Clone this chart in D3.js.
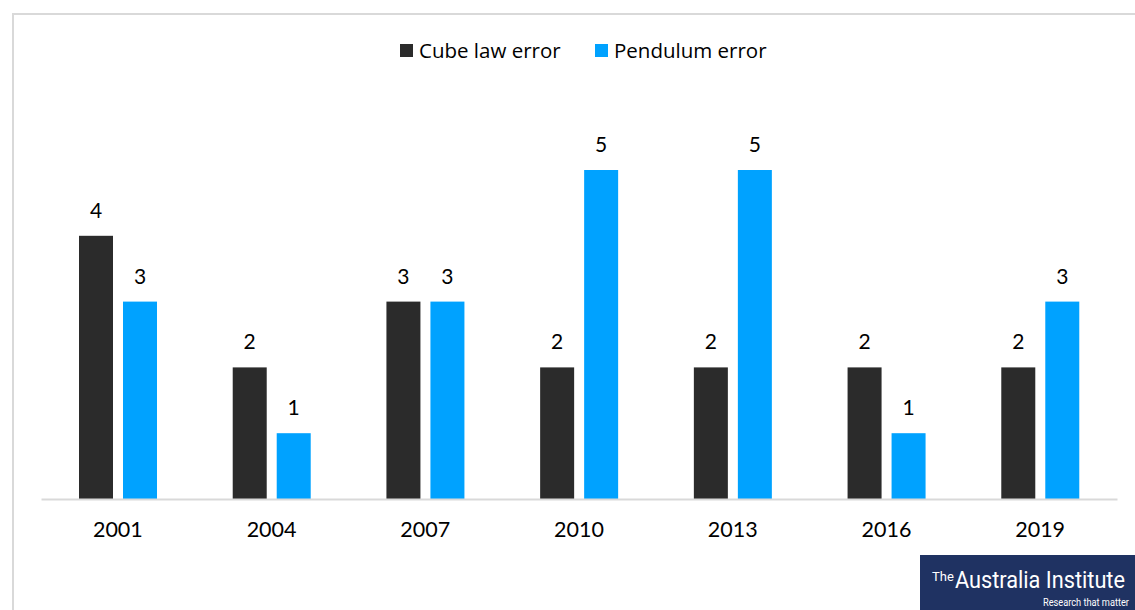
<!DOCTYPE html>
<html>
<head>
<meta charset="utf-8">
<script src="https://cdn.jsdelivr.net/npm/d3@7"></script>
<style>
  body { margin: 0; background: #fff; }
  svg { display: block; }
</style>
</head>
<body>
<div id="chart"></div>
<script>

var years = ['2001', '2004', '2007', '2010', '2013', '2016', '2019'];
var seriesNames = ['Cube law error', 'Pendulum error'];
var cubeLaw = [4, 2, 3, 2, 2, 2, 2];
var pendulum = [3, 1, 3, 5, 5, 1, 3];
var colors = ['#2b2b2b', '#00a2ff'];

var width = 1135;
var height = 610;

var svg = d3.select('#chart')
    .append('svg')
    .attr('width', width)
    .attr('height', height);

// chart frame
svg.append('path')
    .attr('d', 'M13,610 V14 H1135')
    .attr('fill', 'none')
    .attr('stroke', '#d9d9d9')
    .attr('stroke-width', 2);

var x0 = d3.scaleBand()
    .domain(years)
    .range([41, 1117]);

var x1 = d3.scaleBand()
    .domain(seriesNames)
    .range([38, 116])
    .paddingInner(10 / 44);

var y = d3.scaleLinear()
    .domain([0, 5])
    .range([499, 170]);

var data = years.map(function(yr, i) {
    return {year: yr, values: [cubeLaw[i], pendulum[i]]};
});

var groups = svg.selectAll('g.year')
    .data(data)
    .enter()
    .append('g')
    .attr('class', 'year')
    .attr('transform', function(d) { return 'translate(' + x0(d.year) + ',0)'; });

groups.selectAll('rect')
    .data(function(d) { return d.values.map(function(v, j) { return {name: seriesNames[j], value: v, idx: j}; }); })
    .enter()
    .append('rect')
    .attr('x', function(d) { return x1(d.name); })
    .attr('y', function(d) { return y(d.value); })
    .attr('width', x1.bandwidth())
    .attr('height', function(d) { return y(0) - y(d.value); })
    .attr('fill', function(d) { return colors[d.idx]; });

groups.selectAll('text.val')
    .data(function(d) { return d.values.map(function(v, j) { return {name: seriesNames[j], value: v}; }); })
    .enter()
    .append('text')
    .attr('class', 'val')
    .attr('x', function(d) { return x1(d.name) + x1.bandwidth() / 2; })
    .attr('y', function(d) { return y(d.value) - 18; })
    .attr('text-anchor', 'middle')
    .style('font-family', 'Lato, "Open Sans", sans-serif')
    .style('font-size', '21px')
    .style('fill', '#000')
    .text(function(d) { return d.value; });

// x axis
var xAxis = svg.append('g')
    .attr('transform', 'translate(0,' + y(0) + ')')
    .call(d3.axisBottom(x0).tickSize(0).tickPadding(23));

xAxis.select('.domain')
    .attr('stroke', '#d9d9d9')
    .attr('stroke-width', 2);

xAxis.selectAll('text')
    .style('font-family', 'Lato, "Open Sans", sans-serif')
    .style('font-size', '21.5px')
    .style('fill', '#000');

// legend
var legendX = [400, 595];
var legend = svg.selectAll('g.legend')
    .data(seriesNames)
    .enter()
    .append('g')
    .attr('class', 'legend')
    .attr('transform', function(d, i) { return 'translate(' + legendX[i] + ',44)'; });

legend.append('rect')
    .attr('width', 13)
    .attr('height', 13)
    .attr('fill', function(d, i) { return colors[i]; });

legend.append('text')
    .attr('x', 19)
    .attr('y', 14)
    .style('font-family', '"Open Sans", sans-serif')
    .style('font-size', '20.5px')
    .style('fill', '#000')
    .text(function(d) { return d; });

// logo
var logo = svg.append('g').attr('transform', 'translate(920,555)');
logo.append('rect')
    .attr('width', 215)
    .attr('height', 55)
    .attr('fill', '#1f3262');
logo.append('text')
    .attr('x', 12)
    .attr('y', 26)
    .style('font-family', '"Liberation Sans Narrow", "Roboto", sans-serif')
    .style('font-size', '13px')
    .style('fill', '#fff')
    .text('The');
logo.append('text')
    .attr('x', 35)
    .attr('y', 33)
    .attr('textLength', 170)
    .attr('lengthAdjust', 'spacingAndGlyphs')
    .style('font-family', '"Liberation Sans Narrow", "Roboto", sans-serif')
    .style('font-size', '23px')
    .style('fill', '#fff')
    .text('Australia Institute');
logo.append('text')
    .attr('x', 123)
    .attr('y', 51)
    .attr('textLength', 86)
    .attr('lengthAdjust', 'spacingAndGlyphs')
    .style('font-family', '"Liberation Sans Narrow", "Roboto", sans-serif')
    .style('font-size', '10px')
    .style('fill', '#fff')
    .text('Research that matter');

</script>
</body>
</html>
